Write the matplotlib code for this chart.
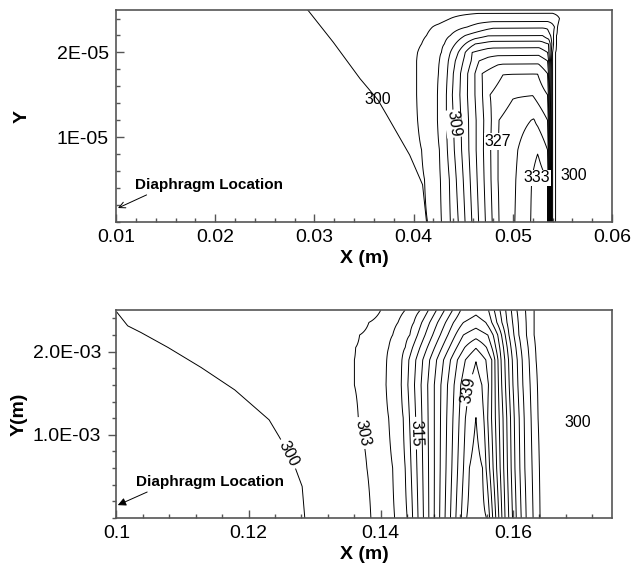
import numpy as np
import matplotlib
matplotlib.use('Agg')
import matplotlib.pyplot as plt
import matplotlib.ticker as ticker

plt.rcParams['font.family'] = ['Liberation Sans', 'DejaVu Sans']

# ---- top panel: temperature (K) read along rows of constant Y ----
top_levels = [300, 303, 306, 309, 312, 315, 318, 321, 324, 327, 330, 333]
top_y = [0.0, 0.5e-5, 0.85e-5, 1.2e-5, 1.5e-5, 1.75e-5, 1.9e-5, 2.0e-5, 2.1e-5, 2.2e-5, 2.3e-5, 2.4e-5, 2.5e-5]
top_x = [
    [0.0100, 0.0402, 0.0414, 0.0428, 0.0437, 0.0445, 0.0486, 0.0502, 0.0518, 0.0525, 0.0535, 0.0540, 0.0543, 0.0548, 0.0600],
    [0.0100, 0.0399, 0.0411, 0.0427, 0.0436, 0.0443, 0.0485, 0.0503, 0.0519, 0.0526, 0.0535, 0.0540, 0.0543, 0.0548, 0.0600],
    [0.0100, 0.0396, 0.0408, 0.0426, 0.0434, 0.0441, 0.0485, 0.0505, 0.0525, 0.0535, 0.0540, 0.0543, 0.0548, 0.0600],
    [0.0100, 0.0392, 0.0404, 0.0424, 0.0433, 0.0440, 0.0486, 0.0505, 0.0521, 0.0535, 0.0540, 0.0543, 0.0548, 0.0600],
    [0.0100, 0.0391, 0.0403, 0.0424, 0.0433, 0.0439, 0.0477, 0.0500, 0.0520, 0.0535, 0.0540, 0.0543, 0.0548, 0.0600],
    [0.0100, 0.0391, 0.0403, 0.0425, 0.0434, 0.0440, 0.0469, 0.0490, 0.0525, 0.0535, 0.0540, 0.0543, 0.0548, 0.0600],
    [0.0100, 0.0391, 0.0403, 0.0426, 0.0435, 0.0442, 0.0466, 0.0485, 0.0526, 0.0535, 0.0540, 0.0543, 0.0548, 0.0600],
    [0.0100, 0.0392, 0.0404, 0.0428, 0.0437, 0.0445, 0.0459, 0.0475, 0.0526, 0.0535, 0.0540, 0.0543, 0.0548, 0.0600],
    [0.0100, 0.0396, 0.0408, 0.0431, 0.0442, 0.0452, 0.0462, 0.0480, 0.0527, 0.0536, 0.0541, 0.0544, 0.0548, 0.0600],
    [0.0100, 0.0401, 0.0413, 0.0437, 0.0452, 0.0475, 0.0530, 0.0538, 0.0541, 0.0544, 0.0548, 0.0600],
    [0.0100, 0.0407, 0.0419, 0.0454, 0.0480, 0.0535, 0.0542, 0.0545, 0.0549, 0.0600],
    [0.0100, 0.0425, 0.0437, 0.0465, 0.0540, 0.0547, 0.0551, 0.0600],
    [0.0100, 0.0600],
]
top_t = [
    [299, 299, 300, 303, 306, 309, 327, 330, 333, 335.5, 333, 303, 300, 299, 299],
    [299, 299, 300, 303, 306, 309, 327, 330, 333, 334.5, 333, 303, 300, 299, 299],
    [299, 299, 300, 303, 306, 309, 327, 330, 332.8, 330, 303, 300, 299, 299],
    [299, 299, 300, 303, 306, 309, 327, 329, 330.2, 327, 303, 300, 299, 299],
    [299, 299, 300, 303, 306, 309, 324, 326.7, 326.9, 324, 303, 300, 299, 299],
    [299, 299, 300, 303, 306, 309, 321, 323.9, 323.95, 321, 303, 300, 299, 299],
    [299, 299, 300, 303, 306, 309, 318, 320.0, 320.1, 318, 303, 300, 299, 299],
    [299, 299, 300, 303, 306, 309, 315, 316.7, 316.9, 315, 303, 300, 299, 299],
    [299, 299, 300, 303, 306, 309, 312, 313.4, 313.5, 312, 303, 300, 299, 299],
    [299, 299, 300, 303, 306, 308.8, 308.95, 306, 303, 300, 299, 299],
    [299, 299, 300, 303, 305.5, 305.6, 303, 300, 299, 299],
    [299, 299, 300, 301.5, 301.6, 300, 299, 299],
    [299, 299],
]
# the slanted 300 K line on the left of the top panel
top_300_y = [0.0, 0.44e-5, 0.79e-5, 1.26e-5, 1.44e-5, 1.69e-5, 2.12e-5, 2.49e-5, 2.5e-5]
top_300_x = [0.0413, 0.0409, 0.0396, 0.0373, 0.0364, 0.0346, 0.0319, 0.0294, 0.0293]

# ---- bottom panel ----
bot_levels = [303, 306, 309, 312, 315, 318, 321, 324, 327, 330, 333, 336, 339, 342]
bot_y = [0.0, 0.6e-3, 1.2e-3, 1.6e-3, 1.9e-3, 2.05e-3, 2.2e-3, 2.35e-3, 2.5e-3]
bot_x = [
    [0.1000, 0.1370, 0.1385, 0.1421, 0.1440, 0.1530, 0.1544, 0.1560, 0.1588, 0.1605, 0.1620, 0.1641, 0.1653, 0.1750],
    [0.1000, 0.1364, 0.1379, 0.1418, 0.1437, 0.1534, 0.1544, 0.1554, 0.1586, 0.1603, 0.1618, 0.1640, 0.1652, 0.1750],
    [0.1000, 0.1351, 0.1366, 0.1412, 0.1434, 0.1528, 0.1544, 0.1556, 0.1585, 0.1602, 0.1617, 0.1638, 0.1650, 0.1750],
    [0.1000, 0.1345, 0.1360, 0.1408, 0.1431, 0.1521, 0.1533, 0.1544, 0.1553, 0.1563, 0.1583, 0.1600, 0.1615, 0.1637, 0.1649, 0.1750],
    [0.1000, 0.1345, 0.1360, 0.1409, 0.1432, 0.1516, 0.1528, 0.1544, 0.1559, 0.1568, 0.1582, 0.1599, 0.1614, 0.1635, 0.1647, 0.1750],
    [0.1000, 0.1347, 0.1362, 0.1412, 0.1437, 0.1515, 0.1527, 0.1544, 0.1560, 0.1568, 0.1580, 0.1597, 0.1612, 0.1634, 0.1646, 0.1750],
    [0.1000, 0.1353, 0.1368, 0.1418, 0.1444, 0.1513, 0.1525, 0.1544, 0.1562, 0.1570, 0.1577, 0.1594, 0.1609, 0.1632, 0.1644, 0.1750],
    [0.1000, 0.1367, 0.1382, 0.1426, 0.1450, 0.1510, 0.1525, 0.1544, 0.1559, 0.1568, 0.1591, 0.1608, 0.1632, 0.1644, 0.1750],
    [0.1000, 0.1385, 0.1400, 0.1437, 0.1460, 0.1521, 0.1544, 0.1563, 0.1589, 0.1606, 0.1632, 0.1644, 0.1750],
]
bot_t = [
    [301, 301, 303, 306, 309, 342, 344, 342, 324, 315, 309, 303, 301, 301],
    [301, 301, 303, 306, 309, 342, 343.2, 342, 324, 315, 309, 303, 301, 301],
    [301, 301, 303, 306, 309, 339, 342.05, 339, 324, 315, 309, 303, 301, 301],
    [301, 301, 303, 306, 309, 336, 339, 340.5, 339, 336, 324, 315, 309, 303, 301, 301],
    [301, 301, 303, 306, 309, 333, 336, 338.9, 336, 333, 324, 315, 309, 303, 301, 301],
    [301, 301, 303, 306, 309, 330, 333, 335.8, 333, 330, 324, 315, 309, 303, 301, 301],
    [301, 301, 303, 306, 309, 327, 330, 331.8, 330, 327, 324, 315, 309, 303, 301, 301],
    [301, 301, 303, 306, 309, 324, 327, 328.5, 327, 324, 315, 309, 303, 301, 301],
    [301, 301, 303, 306, 309, 324, 326, 324, 315, 309, 303, 301, 301],
]
# the curved 300 K line on the left of the bottom panel
bot_300_y = [0.0, 0.38e-3, 0.70e-3, 0.98e-3, 1.18e-3, 1.54e-3, 1.81e-3, 2.05e-3, 2.23e-3, 2.31e-3, 2.45e-3, 2.5e-3]
bot_300_x = [0.1285, 0.1281, 0.1266, 0.1246, 0.1231, 0.1179, 0.1128, 0.1078, 0.1037, 0.1017, 0.1003, 0.0998]
bot_label_pos = [(0.1370, 1.02e-3), (0.1453, 1.02e-3), (0.1532, 1.54e-3)]


def field(rows_y, rows_x, rows_t, x0, x1):
    xg = np.linspace(x0, x1, 1600)
    tt = np.array([np.interp(xg, rx, rt) for rx, rt in zip(rows_x, rows_t)])
    return xg, np.array(rows_y), tt


def offset_field(xg, line_x):
    # signed distance in X from a line given row by row
    return xg[None, :] - np.array(line_x)[:, None]


def style_axes(ax):
    for s in ax.spines.values():
        s.set_color('#555555')
        s.set_linewidth(1.2)
    ax.tick_params(which='both', direction='in', labelsize=14, colors='#555555',
                   labelcolor='black', width=1, pad=5)
    ax.tick_params(which='major', length=6)
    ax.tick_params(which='minor', length=3)


fig = plt.figure(figsize=(6.33, 5.70), dpi=100)

# top panel
ax1 = fig.add_axes([0.1833, 0.6105, 0.7836, 0.3719])
xg, yg, tg = field(top_y, top_x, top_t, 0.01, 0.06)
ax1.contour(xg, yg, tg, levels=top_levels, colors='black', linewidths=0.7)
ax1.contour(xg, top_300_y, offset_field(xg, top_300_x), levels=[0], colors='black', linewidths=0.7)
ax1.set_xlim(0.01, 0.06)
ax1.set_ylim(0, 2.5e-5)
ax1.set_xticks([0.01, 0.02, 0.03, 0.04, 0.05, 0.06])
ax1.set_xticklabels(['0.01', '0.02', '0.03', '0.04', '0.05', '0.06'])
ax1.set_yticks([1e-5, 2e-5])
ax1.set_yticklabels(['1E-05', '2E-05'])
ax1.xaxis.set_minor_locator(ticker.MultipleLocator(0.002))
ax1.yaxis.set_minor_locator(ticker.MultipleLocator(2e-6))
style_axes(ax1)
ax1.set_xlabel('X (m)', fontsize=14, fontweight='bold', labelpad=3)
ax1.set_ylabel('Y', fontsize=14, fontweight='bold', labelpad=19)

box = dict(facecolor='white', edgecolor='none', pad=0.5)
ax1.text(0.0364, 1.44e-5, '300', fontsize=11.5, ha='center', va='center')
ax1.text(0.0440, 1.16e-5, '309', fontsize=11.5, ha='center', va='center', rotation=-82, bbox=box)
ax1.text(0.0485, 0.95e-5, '327', fontsize=11.5, ha='center', va='center', bbox=box)
ax1.text(0.0524, 0.52e-5, '333', fontsize=11.5, ha='center', va='center', bbox=box)
ax1.text(0.0561, 0.55e-5, '300', fontsize=11.5, ha='center', va='center')
ax1.annotate('Diaphragm Location', xy=(0.0102, 0.165e-5), xytext=(0.0119, 0.435e-5),
             fontsize=11, fontweight='bold', va='center',
             arrowprops=dict(arrowstyle='->', color='black', lw=0.7, shrinkA=0, shrinkB=0,
                             relpos=(0.12, 0.0)))

# bottom panel
ax2 = fig.add_axes([0.1840, 0.0912, 0.7829, 0.3649])
xg, yg, tg = field(bot_y, bot_x, bot_t, 0.1, 0.175)
cs = ax2.contour(xg, yg, tg, levels=bot_levels, colors='black', linewidths=0.7)
ax2.clabel(cs, fmt='%d', fontsize=11.5, inline=True, inline_spacing=3, manual=bot_label_pos)
cs300 = ax2.contour(xg, bot_300_y, offset_field(xg, bot_300_x), levels=[0], colors='black', linewidths=0.7)
ax2.clabel(cs300, fmt={0: '300'}, fontsize=11.5, inline=True, inline_spacing=3,
           manual=[(0.1258, 0.76e-3)])
ax2.set_xlim(0.1, 0.175)
ax2.set_ylim(0, 2.5e-3)
ax2.set_xticks([0.1, 0.12, 0.14, 0.16])
ax2.set_xticklabels(['0.1', '0.12', '0.14', '0.16'])
ax2.set_yticks([1e-3, 2e-3])
ax2.set_yticklabels(['1.0E-03', '2.0E-03'])
ax2.xaxis.set_minor_locator(ticker.MultipleLocator(0.004))
ax2.yaxis.set_minor_locator(ticker.MultipleLocator(2e-4))
style_axes(ax2)
ax2.tick_params(axis='y', which='both', direction='out')
ax2.set_xlabel('X (m)', fontsize=14, fontweight='bold', labelpad=3)
ax2.set_ylabel('Y(m)', fontsize=14, fontweight='bold', labelpad=4)
ax2.text(0.1698, 1.15e-3, '300', fontsize=11.5, ha='center', va='center')
ax2.annotate('Diaphragm Location', xy=(0.1002, 0.155e-3), xytext=(0.1029, 0.43e-3),
             fontsize=11, fontweight='bold', va='center',
             arrowprops=dict(arrowstyle='-|>', color='black', lw=0.7, shrinkA=0, shrinkB=0,
                             mutation_scale=12, relpos=(0.12, 0.0)))

fig.savefig('out.png', dpi=100)
